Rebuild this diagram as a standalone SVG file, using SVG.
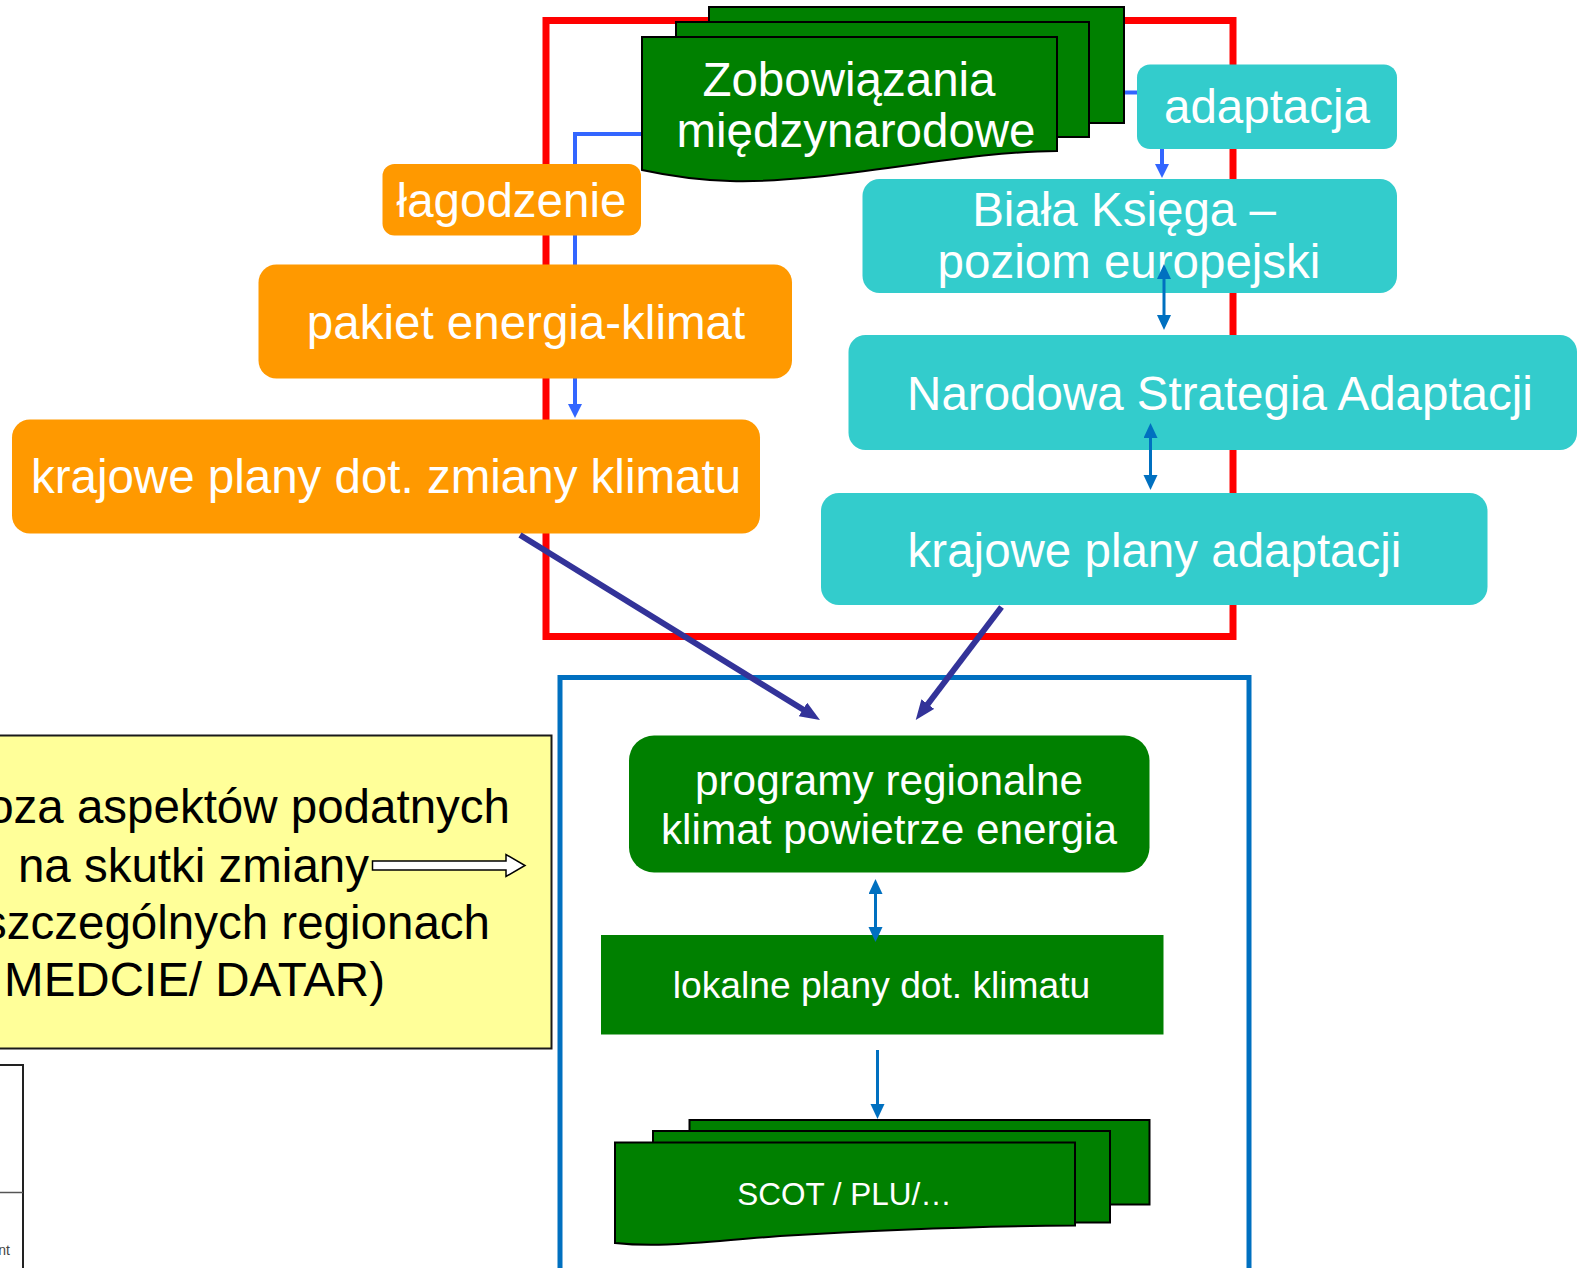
<svg xmlns="http://www.w3.org/2000/svg" width="1578" height="1268" viewBox="0 0 1578 1268">
<style>
  .t { font-family: "Liberation Sans", Arial, sans-serif; fill: #FFFFFF; text-anchor: middle; }
  .tb { font-family: "Liberation Sans", Arial, sans-serif; fill: #000000; text-anchor: end; }
  .orange { fill: #FF9900; }
  .teal { fill: #33CCCC; }
  .green { fill: #008000; }
  .doc { fill: #008000; stroke: #000000; stroke-width: 2; }
  .c-blue { fill: none; stroke: #3366FF; stroke-width: 4; }
  .c-mid { fill: none; stroke: #0070C0; stroke-width: 3; }
  .c-dark { fill: none; stroke: #333399; stroke-width: 6; }
</style>
<defs>
  <marker id="mBlue" markerUnits="userSpaceOnUse" markerWidth="16" markerHeight="16" refX="2" refY="7" orient="auto">
    <path d="M0,0 L14,7 L0,14 Z" fill="#3366FF"/>
  </marker>
  <marker id="mMid" markerUnits="userSpaceOnUse" markerWidth="16" markerHeight="16" refX="3" refY="7" orient="auto-start-reverse">
    <path d="M0,0 L15,7 L0,14 Z" fill="#0070C0"/>
  </marker>
  <marker id="mDark" markerUnits="userSpaceOnUse" markerWidth="24" markerHeight="20" refX="3" refY="8" orient="auto">
    <path d="M0,0 L20,8 L0,16 Z" fill="#333399"/>
  </marker>
</defs>
<rect width="1578" height="1268" fill="#FFFFFF"/>

<!-- frames -->
<g id="frames">
  <rect x="546" y="20.5" width="687" height="616" fill="none" stroke="#FF0000" stroke-width="7"/>
  <rect x="560" y="677.5" width="689" height="593" fill="none" stroke="#0070C0" stroke-width="5"/>
</g>

<!-- connectors drawn under nodes -->
<g id="connectors-under">
  <path class="c-blue" d="M642,134 H575 V406" marker-end="url(#mBlue)"/>
  <path class="c-blue" d="M1124,92.5 H1137"/>
</g>

<!-- left side partial nodes -->
<g id="node-analiza">
  <rect x="-4" y="735.5" width="555.5" height="313" fill="#FFFF99" stroke="#1a1a1a" stroke-width="2"/>
  <text class="tb" x="510" y="823" font-size="47.5">oza aspektów podatnych</text>
  <text class="tb" x="369" y="881.5" font-size="47.5">na skutki zmiany</text>
  <text class="tb" x="490" y="939" font-size="47.5">szczególnych regionach</text>
  <text class="tb" x="385" y="996" font-size="47.5">MEDCIE/ DATAR)</text>
  <path d="M372.5,861 H506 V854.5 L525,865.5 L506,876.5 V870 H372.5 Z" fill="#FFFFFF" stroke="#000000" stroke-width="1.5"/>
</g>
<g id="node-small">
  <rect x="-4" y="1065" width="27" height="210" fill="#FFFFFF" stroke="#222222" stroke-width="2"/>
  <line x1="-4" y1="1192.5" x2="23" y2="1192.5" stroke="#555555" stroke-width="1.5"/>
  <text x="10" y="1255" font-size="14" fill="#444444" text-anchor="end" font-family="Liberation Sans, Arial, sans-serif">nt</text>
</g>

<!-- international commitments multi-document -->
<g id="node-zobowiazania">
  <rect class="doc" x="709" y="7" width="415" height="116"/>
  <rect class="doc" x="676" y="22" width="413" height="115"/>
  <path class="doc" d="M642,37 H1057 V151 C960,151 830,184 730,181 C695,180 665,175 642,170 Z"/>
  <text class="t" x="849" y="95.5" font-size="47.5">Zobowiązania</text>
  <text class="t" x="856" y="147" font-size="47.5">międzynarodowe</text>
</g>

<g id="node-adaptacja">
  <rect class="teal" x="1137" y="64.5" width="260" height="84.5" rx="13"/>
  <text class="t" x="1267" y="123" font-size="47.5">adaptacja</text>
</g>
<g id="node-biala">
  <rect class="teal" x="862.5" y="179" width="534.5" height="114" rx="17"/>
  <text class="t" x="1124" y="225.5" font-size="47.5">Biała Księga –</text>
  <text class="t" x="1129" y="278" font-size="47.5">poziom europejski</text>
</g>
<g id="node-narodowa">
  <rect class="teal" x="848.5" y="335" width="728.5" height="115" rx="17"/>
  <text class="t" x="1220" y="409.5" font-size="47.5">Narodowa Strategia Adaptacji</text>
</g>
<g id="node-krajowe-adaptacji">
  <rect class="teal" x="821" y="493" width="666.5" height="112" rx="18"/>
  <text class="t" x="1154.5" y="566.5" font-size="47.5">krajowe plany adaptacji</text>
</g>

<g id="node-lagodzenie">
  <rect class="orange" x="382.5" y="164" width="258.5" height="71.5" rx="12"/>
  <text class="t" x="511.5" y="216.5" font-size="47.5">łagodzenie</text>
</g>
<g id="node-pakiet">
  <rect class="orange" x="258.5" y="264.5" width="533.5" height="114" rx="18"/>
  <text class="t" x="526" y="339" font-size="47.5">pakiet energia-klimat</text>
</g>
<g id="node-krajowe-klimatu">
  <rect class="orange" x="12" y="419.5" width="748" height="114" rx="18"/>
  <text class="t" x="386" y="493" font-size="47.5">krajowe plany dot. zmiany klimatu</text>
</g>

<g id="node-programy">
  <rect class="green" x="629" y="735.5" width="520.5" height="137" rx="25"/>
  <text class="t" x="889" y="795" font-size="42.3">programy regionalne</text>
  <text class="t" x="889" y="843.5" font-size="42.3">klimat powietrze energia</text>
</g>
<g id="node-lokalne">
  <rect class="green" x="601" y="935" width="562.5" height="99.5"/>
  <text class="t" x="881.5" y="998" font-size="37.2">lokalne plany dot. klimatu</text>
</g>
<g id="node-scot">
  <rect class="doc" x="689.5" y="1120" width="460" height="84.5"/>
  <rect class="doc" x="653" y="1131" width="457" height="91.5"/>
  <path class="doc" d="M615,1142.5 H1075 V1225.5 C990,1226 880,1230 780,1236 C700,1242 660,1248 615,1243 Z"/>
  <text class="t" x="844.5" y="1204.5" font-size="31.5">SCOT / PLU/…</text>
</g>

<!-- connectors drawn above nodes -->
<g id="connectors">
  <path class="c-blue" d="M1162,149 V166" marker-end="url(#mBlue)"/>
  <path class="c-mid" d="M1164,276 V318" marker-start="url(#mMid)" marker-end="url(#mMid)"/>
  <path class="c-mid" d="M1150.5,435 V478" marker-start="url(#mMid)" marker-end="url(#mMid)"/>
  <path class="c-mid" d="M875.5,891 V930" marker-start="url(#mMid)" marker-end="url(#mMid)"/>
  <path class="c-mid" d="M877.5,1050 V1107" marker-end="url(#mMid)"/>
  <path class="c-dark" d="M520,535 L805.5,711" marker-end="url(#mDark)"/>
  <path class="c-dark" d="M1001.5,607 L926,706.5" marker-end="url(#mDark)"/>
</g>
</svg>
